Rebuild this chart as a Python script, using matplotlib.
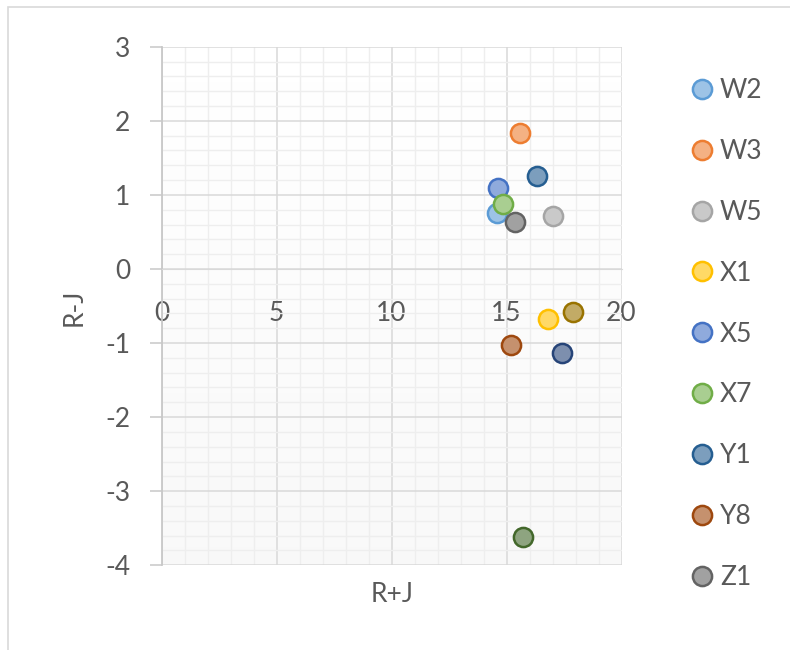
import matplotlib.pyplot as plt
import numpy as np
from matplotlib.colors import to_rgb
from matplotlib.lines import Line2D
from matplotlib.patches import Rectangle

plt.rcParams["font.family"] = ["Lato", "DejaVu Sans"]
plt.rcParams["axes.unicode_minus"] = False

# series data
names = ["W2", "W3", "W5", "X1", "X5", "X7", "Y1", "Y8", "Z1",
         "series 10", "series 11", "series 12"]
r_plus_j = [14.60, 15.59, 17.03, 16.82, 14.64, 14.83, 16.34, 15.18, 15.37,
            17.90, 17.40, 15.73]
r_minus_j = [0.76, 1.83, 0.72, -0.67, 1.09, 0.88, 1.26, -1.03, 0.63,
             -0.58, -1.14, -3.62]
colors = ["#5B9BD5", "#ED7D31", "#A5A5A5", "#FFC000", "#4472C4", "#70AD47",
          "#255E91", "#9E480E", "#636363", "#997300", "#264478", "#43682B"]
legend_count = 9  # legend box only shows the first nine series

TEXT = "#595959"
FS = 19


def lighten(color, alpha=0.6):
    rgb = np.array(to_rgb(color))
    return tuple(rgb * alpha + (1 - alpha))


fig = plt.figure(figsize=(7.9, 6.5), dpi=100)
fig.patches.append(
    Rectangle((8 / 790, -0.1), 1.2, 1.1 - 7.5 / 650, transform=fig.transFigure,
              fill=False, edgecolor="#D9D9D9", linewidth=1.2)
)

ax = fig.add_axes([161.5 / 790, 84.7 / 650, 460 / 790, 518.6 / 650])
ax.set_xlim(0, 20)
ax.set_ylim(-4, 3)

# vertical white -> light grey gradient in the plot area
grad = np.linspace(1.0, 0.0, 256).reshape(-1, 1)
ax.imshow(grad, extent=[0, 20, -4, 3], aspect="auto", cmap="Greys_r",
          vmin=-18, vmax=1, zorder=0, interpolation="bicubic")

ax.set_xticks(np.arange(0, 21, 5))
ax.set_yticks(np.arange(-4, 4, 1))
ax.set_xticks(np.arange(0, 21, 1), minor=True)
ax.set_yticks(np.arange(-4, 3.01, 0.2), minor=True)
ax.grid(which="minor", color="#EEEEEE", linewidth=1.0, zorder=1)
ax.grid(which="major", color="#D9D9D9", linewidth=1.1, zorder=1)
ax.set_axisbelow(True)

for side in ["top", "right"]:
    ax.spines[side].set_visible(False)
ax.spines["bottom"].set_position(("data", 0))
ax.spines["bottom"].set_color("#D9D9D9")
ax.spines["left"].set_color("#C8C8C8")
ax.spines["left"].set_linewidth(1.3)

ax.tick_params(axis="x", which="both", length=0, pad=23,
               labelsize=FS, labelcolor=TEXT)
ax.tick_params(axis="y", which="major", length=8.3, width=1.1,
               color="#C8C8C8", pad=14, labelsize=FS, labelcolor=TEXT)
ax.tick_params(axis="y", which="minor", length=0)

for i in range(len(names)):
    ax.plot(r_plus_j[i], r_minus_j[i], "o", markersize=13.8,
            markerfacecolor=lighten(colors[i]),
            markeredgecolor=colors[i], markeredgewidth=1.8,
            label=names[i], zorder=5, clip_on=False)

ax.set_xlabel("R+J", fontsize=FS, color=TEXT)
ax.xaxis.set_label_coords(0.502, -0.032)
ax.set_ylabel("R-J", fontsize=FS, color=TEXT)
ax.yaxis.set_label_coords(-0.163, 0.498)

handles = [
    Line2D([], [], linestyle="none", marker="o", markersize=13.8,
           markerfacecolor=lighten(c), markeredgecolor=c, markeredgewidth=1.8)
    for c in colors[:legend_count]
]
fig.legend(handles, names[:legend_count], loc="upper left",
           bbox_to_anchor=(691 / 790, 1 - 78 / 650), frameon=False,
           fontsize=FS, labelcolor=TEXT, labelspacing=1.36,
           handlelength=0.8, handletextpad=0.3, borderaxespad=0,
           borderpad=0)

fig.savefig("out.png", dpi=100)
